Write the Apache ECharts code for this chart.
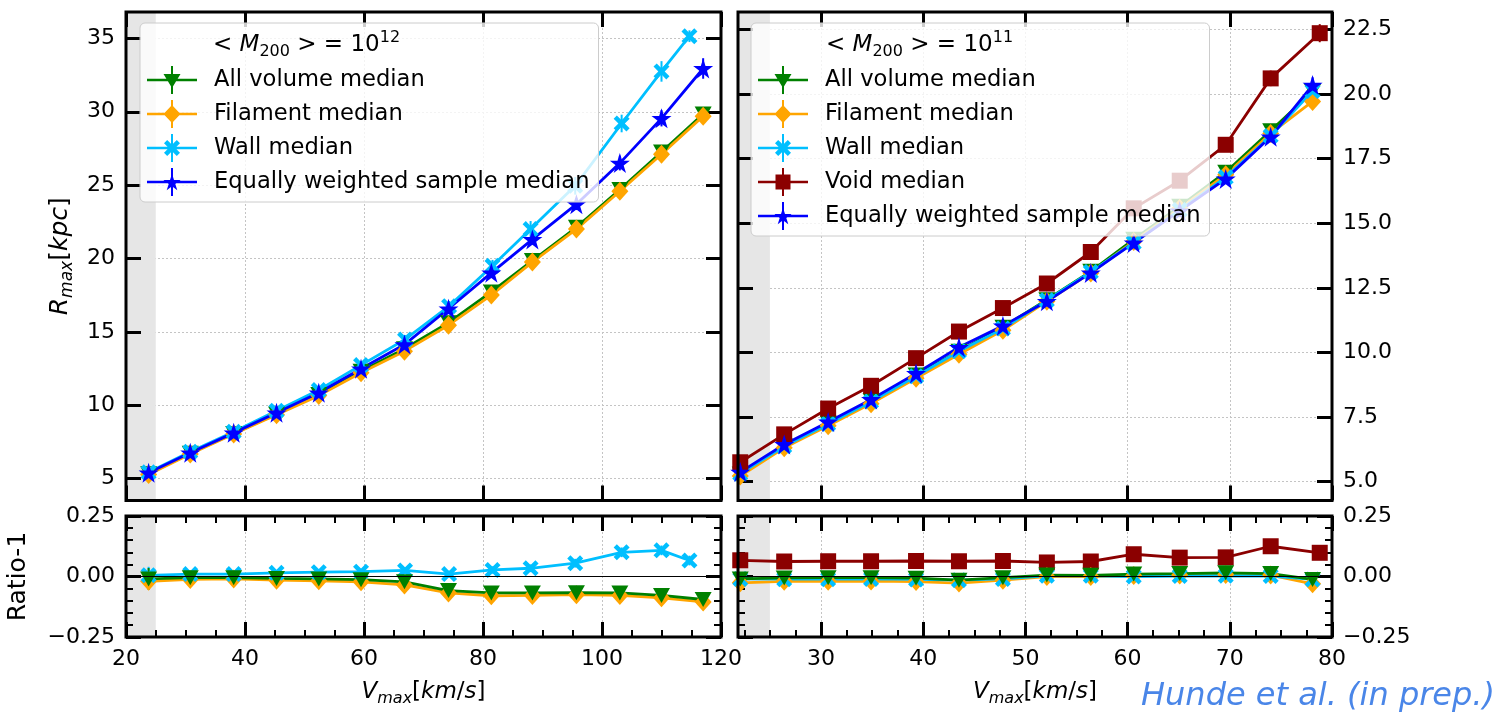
<!DOCTYPE html>
<html><head><meta charset="utf-8">
<script src="https://cdn.jsdelivr.net/npm/echarts@6/dist/echarts.min.js"></script>
<style>html,body{margin:0;padding:0;background:#fff}#c{width:1498px;height:717px}</style>
</head><body><div id="c"></div>
<script>
// ---------------- data ----------------
// left panel: <M200> = 1e12
const leftVmax     = [23.8, 30.8, 38.1, 45.3, 52.4, 59.5, 66.8, 74.2, 81.4, 88.3, 95.7, 103.0, 110.0, 117.0];
const leftWallVmax = [23.8, 30.8, 38.1, 45.3, 52.4, 59.5, 66.9, 74.3, 81.6, 88.0, 95.5, 103.3, 110.0, 114.7];
const leftAll  = [5.33, 6.72, 8.07, 9.40, 10.73, 12.31, 13.84, 15.62, 17.72, 19.86, 22.12, 24.70, 27.25, 29.85];
const leftFil  = [5.28, 6.67, 8.03, 9.34, 10.65, 12.21, 13.68, 15.45, 17.50, 19.75, 22.00, 24.58, 27.10, 29.70];
const leftWall = [5.42, 6.82, 8.19, 9.62, 11.03, 12.73, 14.48, 16.75, 19.50, 22.00, 24.95, 29.20, 32.75, 35.15];
const leftEq   = [5.39, 6.75, 8.11, 9.48, 10.84, 12.48, 14.13, 16.57, 19.02, 21.30, 23.70, 26.50, 29.55, 32.95];
const leftEqErr   = [0.10, 0.10, 0.12, 0.12, 0.15, 0.18, 0.20, 0.25, 0.30, 0.35, 0.40, 0.50, 0.55, 0.70];
const leftWallErr = [0.12, 0.12, 0.15, 0.15, 0.20, 0.25, 0.30, 0.35, 0.40, 0.55, 0.60, 0.60, 0.70, 0.40];
const leftRatioAll  = [-0.010, -0.005, -0.005, -0.008, -0.010, -0.013, -0.022, -0.058, -0.068, -0.068, -0.067, -0.068, -0.078, -0.095];
const leftRatioFil  = [-0.020, -0.012, -0.010, -0.015, -0.018, -0.022, -0.035, -0.068, -0.080, -0.078, -0.075, -0.078, -0.088, -0.105];
const leftRatioWall = [0.005, 0.010, 0.010, 0.015, 0.018, 0.020, 0.025, 0.010, 0.027, 0.034, 0.055, 0.100, 0.108, 0.066];
const leftRatioAllErr  = [0.045, 0.010, 0.010, 0.010, 0.010, 0.010, 0.012, 0.014, 0.015, 0.016, 0.018, 0.020, 0.020, 0.020];
const leftRatioWallErr = [0.035, 0.010, 0.010, 0.010, 0.010, 0.010, 0.012, 0.014, 0.015, 0.016, 0.018, 0.020, 0.020, 0.020];

// right panel: <M200> = 1e11
const rightVmax     = [22.1, 26.4, 30.7, 34.9, 39.3, 43.5, 47.8, 52.1, 56.4, 60.6, 65.1, 69.6, 74.0, 78.1];
const rightVoidVmax = [22.1, 26.4, 30.7, 34.9, 39.3, 43.5, 47.8, 52.1, 56.4, 60.6, 65.1, 69.6, 74.0, 78.8];
const rightAll  = [5.30, 6.40, 7.27, 8.14, 9.13, 10.05, 10.98, 12.04, 13.14, 14.38, 15.66, 16.98, 18.58, 20.10];
const rightFil  = [5.22, 6.31, 7.16, 8.02, 9.00, 9.93, 10.86, 11.98, 13.08, 14.30, 15.58, 16.88, 18.48, 19.72];
const rightWall = [5.31, 6.37, 7.23, 8.10, 9.08, 10.05, 10.93, 12.02, 13.12, 14.25, 15.52, 16.78, 18.38, 20.12];
const rightVoid = [5.75, 6.83, 7.83, 8.71, 9.78, 10.81, 11.72, 12.67, 13.89, 15.58, 16.65, 18.04, 20.61, 22.36];
const rightEq   = [5.37, 6.44, 7.31, 8.18, 9.19, 10.20, 11.03, 11.98, 13.08, 14.24, 15.48, 16.72, 18.35, 20.35];
const rightVoidErr = [0.08, 0.08, 0.09, 0.10, 0.10, 0.12, 0.12, 0.14, 0.15, 0.18, 0.20, 0.22, 0.30, 0.35];
const rightEqErr   = [0.05, 0.05, 0.06, 0.06, 0.07, 0.08, 0.08, 0.09, 0.10, 0.12, 0.14, 0.16, 0.20, 0.30];
const rightRatioAll  = [-0.010, -0.006, -0.005, -0.005, -0.007, -0.015, -0.005, 0.006, 0.005, 0.010, 0.012, 0.015, 0.012, -0.012];
const rightRatioFil  = [-0.026, -0.020, -0.020, -0.019, -0.021, -0.027, -0.015, 0.000, 0.000, 0.004, 0.006, 0.008, 0.006, -0.030];
const rightRatioWall = [-0.010, -0.011, -0.011, -0.010, -0.012, -0.015, -0.010, 0.003, 0.003, 0.000, 0.002, 0.003, 0.002, -0.012];
const rightRatioVoid = [0.067, 0.062, 0.063, 0.063, 0.064, 0.063, 0.064, 0.058, 0.062, 0.092, 0.078, 0.079, 0.125, 0.098];

// axis ranges and ticks
const leftXRange  = [20, 120];
const rightXRange = [21.88, 80];
const leftYRange  = [3.5, 36.8];
const rightYRange = [4.27, 23.18];
const ratioRange  = [-0.25, 0.25];
const shadeEdge   = 25;
const leftYTicks  = [5, 10, 15, 20, 25, 30, 35];
const rightYTicks = [5, 7.5, 10, 12.5, 15, 17.5, 20, 22.5];
const rightXTicks = [30, 40, 50, 60, 70, 80];
const rightXMinor = [22.5, 25, 27.5, 32.5, 35, 37.5, 42.5, 45, 47.5, 52.5, 55, 57.5, 62.5, 65, 67.5, 72.5, 75, 77.5];

const NAMES = {all:'All volume median', fil:'Filament median', wall:'Wall median', void:'Void median', eq:'Equally weighted sample median'};

// ---------------- styling ----------------
const FONT = 'DejaVu Sans';
const C = {all:'#008000', fil:'#ffa500', wall:'#00bfff', eq:'#0000ff', void:'#8b0000'};
const SYM = {
  all: 'path://M0,0 L20,0 L10,17.3 Z',
  fil: 'diamond',
  wall: 'path://M0,2 L2,0 L5,3 L8,0 L10,2 L7,5 L10,8 L8,10 L5,7 L2,10 L0,8 L3,5 Z',
  eq: 'path://M50,0 L61.2,34.5 L97.6,34.5 L68.2,55.9 L79.4,90.5 L50,69.1 L20.6,90.5 L31.8,55.9 L2.4,34.5 L38.8,34.5 Z',
  void: 'rect'
};
const SIZE = {all:[17,15], fil:[17,19], wall:16, eq:20, void:16};
const BAR = 'M0,25.5 L100,25.5 L100,30.5 L0,30.5 Z M48,0 L52,0 L52,56 L48,56 Z ';
const MK = {
  all: 'M33,16 L67,16 L50,44 Z',
  fil: 'M50,10 L67,28 L50,46 L33,28 Z',
  wall: 'M34,18.4 L40.4,12 L50,21.6 L59.6,12 L66,18.4 L56.4,28 L66,37.6 L59.6,44 L50,34.4 L40.4,44 L34,37.6 L43.6,28 Z',
  eq: 'M50,11.7 L54,24.1 L67.1,24.1 L56.6,31.8 L60.6,44.3 L50,36.6 L39.4,44.3 L43.4,31.8 L32.9,24.1 L46,24.1 Z',
  void: 'M35,13 L65,13 L65,43 L35,43 Z'
};
const icon = k => 'path://' + BAR + MK[k];

const rich = {
  i: {fontSize:23, fontStyle:'italic', fontFamily:FONT, color:'#000', lineHeight:30, fontWeight:'normal'},
  n: {fontSize:23, fontFamily:FONT, color:'#000', lineHeight:30, fontWeight:'normal'},
  s: {fontSize:16, fontStyle:'italic', fontFamily:FONT, color:'#000', lineHeight:14, verticalAlign:'bottom', fontWeight:'normal'},
  b: {fontSize:16, fontFamily:FONT, color:'#000', lineHeight:14, verticalAlign:'bottom', fontWeight:'normal'},
  p: {fontSize:16, fontFamily:FONT, color:'#000', lineHeight:14, verticalAlign:'top', fontWeight:'normal'},
  yi: {fontSize:25, fontStyle:'italic', fontFamily:FONT, color:'#000', lineHeight:32, fontWeight:'normal'},
  yn: {fontSize:25, fontFamily:FONT, color:'#000', lineHeight:32, fontWeight:'normal'},
  ys: {fontSize:17, fontStyle:'italic', fontFamily:FONT, color:'#000', lineHeight:15, verticalAlign:'bottom', fontWeight:'normal'}
};
const vName = '{i|V}{s|max}{n|[}{i|km}{n|/}{i|s}{n|]}';
const rName = '{yi|R}{ys|max}{yn|[}{yi|kpc}{yn|]}';
const ratioFmt = v => (v < 0 ? '\u2212' : '') + Math.abs(v).toFixed(2);

function mk(grid, pos, range, o) {
  o = o || {};
  const a = {
    type:'value', gridIndex:grid, position:pos, min:range[0], max:range[1], z:1,
    axisLine:{show:false, onZero:false},
    axisTick:{show:true, inside:true, length:o.tickLen || 15, lineStyle:{color:'#000', width:o.tickW || 3}},
    axisLabel:{show:!!o.label, margin:11, color:'#000', fontSize:22, fontFamily:FONT, formatter:o.fmt},
    splitLine:{show:!!o.split, lineStyle:{color:'#c4c4c4', type:[2,2], width:1}},
    minorTick:o.minor ? {show:true, splitNumber:o.minor, length:7, lineStyle:{color:'#000', width:2}} : {show:false},
    minorSplitLine:{show:false}
  };
  if (o.interval) a.interval = o.interval;
  if (o.ticks) { a.axisTick.customValues = o.ticks; a.axisLabel.customValues = o.ticks; }
  if (o.name) {
    a.name = o.name; a.nameLocation = 'middle'; a.nameGap = o.nameGap;
    a.nameTextStyle = {color:'#000', fontSize:23, fontFamily:FONT, rich:rich};
  }
  return a;
}

function line(k, grid, xs, ys, z) {
  return {
    type:'line', name:NAMES[k], xAxisIndex:grid, yAxisIndex:grid,
    data: xs.map((x, i) => [x, ys[i]]),
    symbol:SYM[k], symbolSize:SIZE[k], showSymbol:true,
    lineStyle:{color:C[k], width:2.8}, itemStyle:{color:C[k], borderWidth:0},
    z:z || 2, animation:false, silent:true, emphasis:{disabled:true}
  };
}
function errs(k, grid, xs, ys, es) {
  return {
    type:'custom', name:'err-' + k + grid, xAxisIndex:grid, yAxisIndex:grid,
    data: xs.map((x, i) => [x, ys[i], es[i]]),
    encode:{x:0, y:1}, z:2, silent:true, animation:false,
    renderItem: function (params, api) {
      const x = api.value(0), y = api.value(1), e = api.value(2);
      const p1 = api.coord([x, y - e]), p2 = api.coord([x, y + e]);
      return {type:'line', shape:{x1:p1[0], y1:p1[1], x2:p2[0], y2:p2[1]}, style:{stroke:C[k], lineWidth:2}};
    }
  };
}
function shade(grid, x0) {
  return {type:'line', name:'shade' + grid, xAxisIndex:grid, yAxisIndex:grid, data:[], silent:true, z:0,
    markArea:{silent:true, itemStyle:{color:'#e6e6e6'}, data:[[{xAxis:x0}, {xAxis:shadeEdge}]]}};
}
function zero(grid) {
  return {type:'line', name:'zero' + grid, xAxisIndex:grid, yAxisIndex:grid, data:[], silent:true, z:1,
    markLine:{silent:true, symbol:['none','none'], label:{show:false}, animation:false,
      lineStyle:{color:'#000', width:1.2, type:'solid'}, data:[{yAxis:0}]}};
}

const gridBase = {show:true, borderColor:'#000', borderWidth:3, backgroundColor:'transparent', z:5, containLabel:false};
const legendBase = {orient:'vertical', padding:[43,9,6,7], itemGap:6, itemWidth:50, itemHeight:28,
  backgroundColor:'rgba(255,255,255,0.8)', borderColor:'#cccccc', borderWidth:1, borderRadius:5,
  selectedMode:false, z:10, itemStyle:{borderWidth:0},
  textStyle:{fontSize:22.6, fontFamily:FONT, color:'#000', padding:[0,0,0,12]}};
const option = {
  animation:false,
  backgroundColor:'#fff',
  textStyle:{fontFamily:FONT},
  grid:[
    Object.assign({left:126, top:12, width:595, height:488.5}, gridBase),
    Object.assign({left:738, top:12, width:594, height:488.5}, gridBase),
    Object.assign({left:126, top:516, width:595, height:121}, gridBase),
    Object.assign({left:738, top:516, width:594, height:121}, gridBase)
  ],
  xAxis:[
    mk(0, 'bottom', leftXRange, {interval:20, split:true}),
    mk(1, 'bottom', rightXRange, {ticks:rightXTicks, split:true}),
    mk(2, 'bottom', leftXRange, {interval:20, split:true, label:true, minor:4, name:vName, nameGap:40}),
    mk(3, 'bottom', rightXRange, {ticks:rightXTicks, split:true, label:true, name:vName, nameGap:40}),
    mk(0, 'top', leftXRange, {interval:20}),
    mk(1, 'top', rightXRange, {ticks:rightXTicks}),
    mk(2, 'top', leftXRange, {interval:20, minor:4}),
    mk(3, 'top', rightXRange, {ticks:rightXTicks}),
    mk(3, 'bottom', rightXRange, {ticks:rightXMinor, tickLen:7, tickW:2}),
    mk(3, 'top', rightXRange, {ticks:rightXMinor, tickLen:7, tickW:2})
  ],
  yAxis:[
    mk(0, 'left', leftYRange, {ticks:leftYTicks, split:true, label:true, fmt:v => String(v), name:rName, nameGap:50}),
    mk(1, 'left', rightYRange, {ticks:rightYTicks, split:true}),
    mk(2, 'left', ratioRange, {interval:0.25, label:true, minor:5, fmt:ratioFmt, name:'{yn|Ratio-1}', nameGap:92}),
    mk(3, 'left', ratioRange, {interval:0.25, minor:5}),
    mk(0, 'right', leftYRange, {ticks:leftYTicks}),
    mk(1, 'right', rightYRange, {ticks:rightYTicks, label:true, fmt:v => v.toFixed(1)}),
    mk(2, 'right', ratioRange, {interval:0.25, minor:5}),
    mk(3, 'right', ratioRange, {interval:0.25, minor:5, label:true, fmt:ratioFmt})
  ],
  legend:[
    Object.assign({left:140, top:23, data:['all','fil','wall','eq'].map(k => ({name:NAMES[k], icon:icon(k)}))}, legendBase),
    Object.assign({left:751, top:23, data:['all','fil','wall','void','eq'].map(k => ({name:NAMES[k], icon:icon(k)}))}, legendBase)
  ],
  title:[
    {left:213, top:30, padding:0, z:12, text:'{n|< }{i|M}{b|200}{n| > = 10}{p|12}', textStyle:{fontWeight:'normal', rich:rich}},
    {left:826, top:30, padding:0, z:12, text:'{n|< }{i|M}{b|200}{n| > = 10}{p|11}', textStyle:{fontWeight:'normal', rich:rich}},
    {right:3, top:681, padding:0, z:12, text:'Hunde et al. (in prep.)',
     textStyle:{color:'#4a86e8', fontStyle:'italic', fontWeight:'normal', fontSize:32, fontFamily:FONT}}
  ],
  series:[
    shade(0, leftXRange[0]), shade(1, rightXRange[0]), shade(2, leftXRange[0]), shade(3, rightXRange[0]),
    zero(2), zero(3),
    // left top
    line('all', 0, leftVmax, leftAll),
    line('fil', 0, leftVmax, leftFil),
    errs('wall', 0, leftWallVmax, leftWall, leftWallErr),
    line('wall', 0, leftWallVmax, leftWall),
    errs('eq', 0, leftVmax, leftEq, leftEqErr),
    line('eq', 0, leftVmax, leftEq),
    // right top
    line('all', 1, rightVmax, rightAll),
    line('fil', 1, rightVmax, rightFil),
    line('wall', 1, rightVmax, rightWall),
    errs('void', 1, rightVoidVmax, rightVoid, rightVoidErr),
    line('void', 1, rightVoidVmax, rightVoid),
    errs('eq', 1, rightVmax, rightEq, rightEqErr),
    line('eq', 1, rightVmax, rightEq),
    // left ratio
    line('fil', 2, leftVmax, leftRatioFil),
    errs('wall', 2, leftWallVmax, leftRatioWall, leftRatioWallErr),
    line('wall', 2, leftWallVmax, leftRatioWall),
    errs('all', 2, leftVmax, leftRatioAll, leftRatioAllErr),
    line('all', 2, leftVmax, leftRatioAll),
    // right ratio
    line('void', 3, rightVoidVmax, rightRatioVoid),
    line('fil', 3, rightVmax, rightRatioFil),
    line('wall', 3, rightVmax, rightRatioWall),
    line('all', 3, rightVmax, rightRatioAll)
  ]
};
const chart = echarts.init(document.getElementById('c'), null, {renderer:'canvas'});
chart.setOption(option);
</script>
</body></html>
